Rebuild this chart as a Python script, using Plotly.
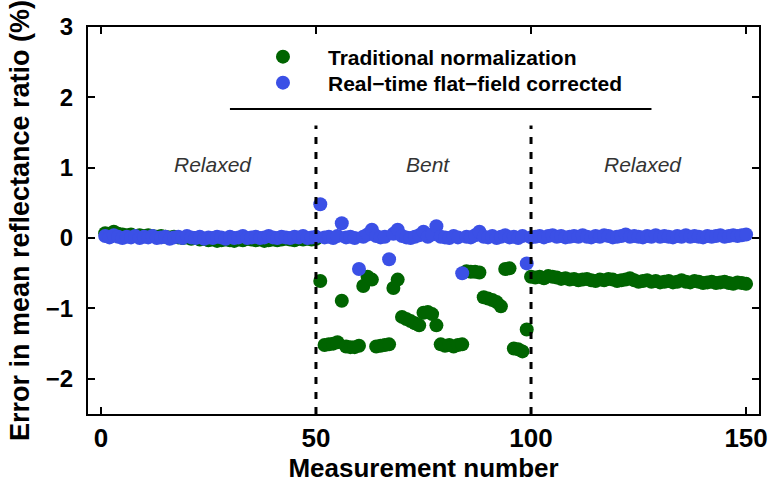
import plotly.graph_objects as go

measurement = list(range(1, 151))

traditional = [
    0.07, 0.06, 0.09, 0.06, 0.05, 0.04, 0.05, 0.03, 0.04, 0.03,
    0.04, 0.03, 0.02, 0.03, 0.02, 0.01, 0.02, 0.01, 0.00, 0.01,
    -0.01, 0.00, -0.02, -0.01, -0.03, -0.02, -0.04, -0.03, -0.02, -0.03,
    -0.04, -0.02, -0.03, -0.01, -0.02, -0.03, -0.02, -0.04, -0.03, -0.02,
    -0.03, -0.02, -0.01, -0.02, -0.03, -0.01, -0.02, -0.01, -0.02, -0.01,
    -0.61, -1.52, -1.51, -1.50, -1.48, -0.89, -1.54, -1.55, -1.55, -1.53,
    -0.68, -0.55, -0.59, -1.54, -1.53, -1.52, -1.51, -0.71, -0.59, -1.12,
    -1.15, -1.18, -1.21, -1.24, -1.06, -1.05, -1.08, -1.24, -1.51, -1.53,
    -1.52, -1.54, -1.52, -1.51, -0.47, -0.48, -0.48, -0.49, -0.84, -0.86,
    -0.88, -0.91, -0.97, -0.44, -0.43, -1.57, -1.58, -1.61, -1.30, -0.55,
    -0.56, -0.55, -0.57, -0.54, -0.55, -0.56, -0.58, -0.57, -0.59, -0.58,
    -0.60, -0.59, -0.58, -0.60, -0.61, -0.59, -0.60, -0.58, -0.59, -0.61,
    -0.60, -0.59, -0.57, -0.60, -0.62, -0.61, -0.60, -0.62, -0.61, -0.63,
    -0.62, -0.61, -0.63, -0.62, -0.60, -0.62, -0.63, -0.61, -0.62, -0.64,
    -0.63, -0.62, -0.64, -0.63, -0.62, -0.64, -0.65, -0.63, -0.64, -0.65,
]

flatfield = [
    0.03, 0.01, 0.04, 0.02, 0.00, 0.02, 0.01, 0.03, 0.00, 0.02,
    0.01, 0.03, 0.00, 0.01, 0.02, -0.01, 0.01, 0.02, 0.00, 0.03,
    0.01, 0.00, 0.02, -0.01, 0.01, 0.00, 0.02, 0.01, -0.01, 0.02,
    0.00, 0.01, 0.03, 0.00, 0.01, 0.02, 0.00, 0.01, 0.03, 0.01,
    0.00, 0.02, 0.01, 0.00, 0.02, 0.01, 0.03, 0.00, 0.01, 0.02,
    0.48, 0.01, 0.02, 0.00, 0.03, 0.21, 0.01, 0.02, 0.00, -0.44,
    0.02, 0.05, 0.12, 0.03, 0.01, 0.02, -0.30, 0.06, 0.12, 0.03,
    0.01, 0.00, 0.02, 0.04, 0.09, 0.02, 0.05, 0.17, 0.02, 0.01,
    0.00, 0.03, 0.01, -0.50, 0.02, 0.01, 0.04, 0.09, 0.02, 0.01,
    0.03, 0.00, 0.02, 0.04, 0.01, 0.02, 0.00, 0.03, -0.36, 0.01,
    0.02, 0.03, 0.01, 0.03, 0.04, 0.02, 0.03, 0.01, 0.02, 0.03,
    0.02, 0.04, 0.02, 0.01, 0.03, 0.02, 0.04, 0.03, 0.01, 0.02,
    0.03, 0.05, 0.02, 0.03, 0.02, 0.01, 0.03, 0.02, 0.04, 0.02,
    0.03, 0.02, 0.01, 0.03, 0.02, 0.04, 0.02, 0.03, 0.02, 0.01,
    0.03, 0.02, 0.03, 0.04, 0.02, 0.03, 0.04, 0.03, 0.04, 0.05,
]

phase_labels = ["Relaxed", "Bent", "Relaxed"]
phase_centers = [26, 76, 126]
phase_bounds = [50, 100]
x_ticks = [0, 50, 100, 150]
y_ticks = [-2, -1, 0, 1, 2, 3]

GREEN = "#006400"
BLUE = "#3b50e6"
FONT = "Liberation Sans"

fig = go.Figure()
fig.add_trace(go.Scatter(
    x=measurement, y=traditional, mode="markers", name="Traditional normalization",
    marker=dict(color=GREEN, size=14, line=dict(width=0)), legend="legend",
))
fig.add_trace(go.Scatter(
    x=measurement, y=flatfield, mode="markers", name="Real\u2212time flat\u2212field corrected",
    marker=dict(color=BLUE, size=14, line=dict(width=0)), legend="legend2",
))

for xb in phase_bounds:
    fig.add_shape(type="line", x0=xb, x1=xb, y0=-2.5, y1=1.6, xref="x", yref="y",
                  line=dict(color="black", width=3, dash="7px,8px"))

fig.add_shape(type="line", x0=30, x1=128, y0=1.835, y1=1.835, xref="x", yref="y",
              line=dict(color="black", width=2))

for lab, xc in zip(phase_labels, phase_centers):
    fig.add_annotation(x=xc, y=1.05, text="<i>%s</i>" % lab, showarrow=False,
                       font=dict(family=FONT, size=21, color="#333333"))

axis_common = dict(showline=True, linecolor="black", linewidth=2, mirror="ticks",
                   ticks="inside", ticklen=7, tickwidth=2, tickcolor="black",
                   showgrid=False, zeroline=False)

def lab(v):
    return ("\u2212%d" % -v) if v < 0 else str(v)

fig.update_xaxes(range=[-3, 153], tickvals=x_ticks, ticktext=[lab(v) for v in x_ticks],
                 tickfont=dict(family=FONT, size=26, color="black", weight="bold"),
                 title=dict(text="Measurement number", font=dict(family=FONT, size=26, color="black", weight="bold"), standoff=2),
                 **axis_common)
fig.update_yaxes(range=[-2.5, 3], tickvals=y_ticks, ticktext=[lab(v) for v in y_ticks],
                 ticklabelstandoff=8,
                 tickfont=dict(family=FONT, size=24, color="black", weight="bold"),
                 title=dict(text="Error in mean reflectance ratio (%)", font=dict(family=FONT, size=27, color="black", weight="bold"), standoff=8),
                 **axis_common)

leg_common = dict(x=0.2235, xanchor="left", yanchor="middle", itemwidth=80,
                  bgcolor="rgba(0,0,0,0)", borderwidth=0,
                  font=dict(family=FONT, size=21, color="black", weight="bold"))

fig.update_layout(
    width=777, height=484,
    margin=dict(l=88, r=9, t=27, b=70),
    plot_bgcolor="white", paper_bgcolor="white",
    font=dict(family=FONT, color="black"),
    legend=dict(y=0.9225, **leg_common),
    legend2=dict(y=0.8553, **leg_common),
    showlegend=True,
)

fig.write_html("out.html")
